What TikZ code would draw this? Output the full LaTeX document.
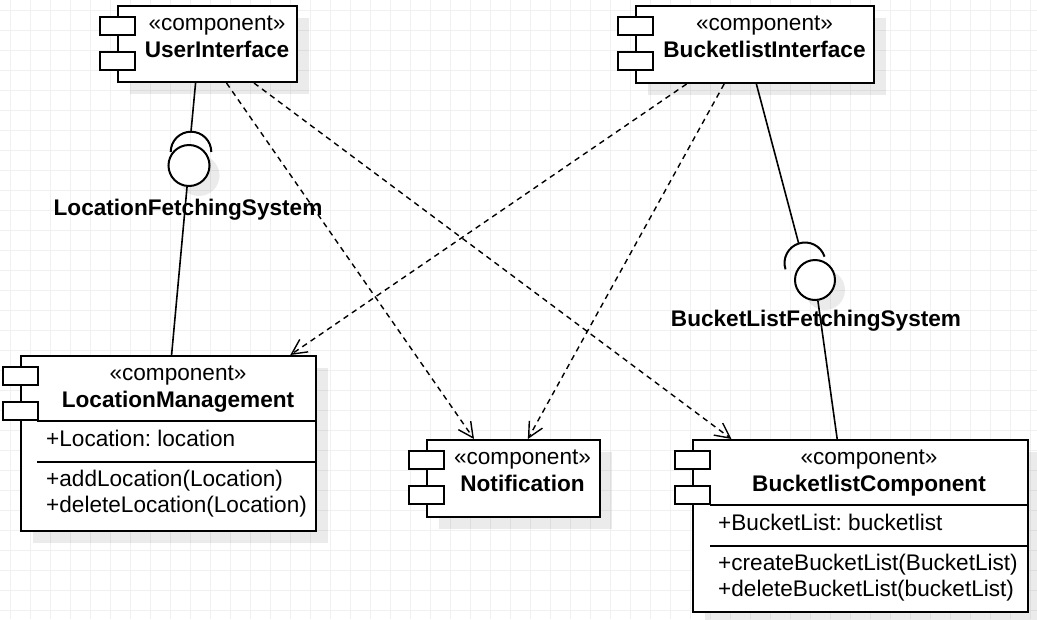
\documentclass[tikz,border=0pt]{standalone}
\usepackage{fontspec}
\setmainfont{Liberation Sans}
\usetikzlibrary{calc, shadows, arrows.meta}
\frenchspacing

\newcommand{\umlfont}{\fontsize{22.6}{27}\selectfont}

\tikzset{
  every node/.style={font=\umlfont, inner sep=0pt},
  gridline/.style={black!6, line width=1pt},
  comp/.style={draw, rectangle, line width=2pt, fill=white,
    drop shadow={shadow xshift=12pt, shadow yshift=-12pt, fill=black, opacity=0.08}},
  iconbox/.style={draw, line width=2pt, fill=white},
  sep/.style={line width=1.8pt},
  iface/.style={draw, circle, line width=2pt, fill=white, minimum size=41pt,
    drop shadow={shadow xshift=10pt, shadow yshift=-10pt, fill=black, opacity=0.08}},
  socket/.style={line width=2pt},
  link/.style={line width=1.6pt},
  dep/.style={line width=1.4pt, dash pattern=on 5.5pt off 4.5pt,
    -{Straight Barb[length=15pt, width=15pt, line width=1.4pt]}},
  stereo/.style={anchor=base},
  cname/.style={anchor=base, font=\umlfont\bfseries},
  member/.style={anchor=base west},
  ilabel/.style={anchor=base, font=\umlfont\bfseries}
}

\begin{document}
\begin{tikzpicture}[x=1pt, y=1pt]
  \useasboundingbox (0,0) rectangle (1037,-619);
  \fill[white] (0,0) rectangle (1037,-619);
  \foreach \x in {10,30,...,1030}
    \draw[gridline] (\x,0) -- (\x,-619);
  \foreach \y in {10,30,...,610}
    \draw[gridline] (0,-\y) -- (1037,-\y);

  % components
  \node[comp, minimum width=179pt, minimum height=76pt] (ui) at (207.5,-44) {};
  \node[comp, minimum width=238pt, minimum height=77pt] (bi) at (755,-44.5) {};
  \node[comp, minimum width=295pt, minimum height=175pt] (lm) at (168.5,-443.5) {};
  \node[comp, minimum width=173pt, minimum height=77pt] (nt) at (513.5,-478.5) {};
  \node[comp, minimum width=335pt, minimum height=172pt] (bc) at (860.5,-526) {};

  \foreach \n in {ui,bi,lm,nt,bc} {
    \draw[iconbox] ($(\n.north west)+(-17.5,-12)$) rectangle ++(35,-17.5);
    \draw[iconbox] ($(\n.north west)+(-17.5,-47)$) rectangle ++(35,-17.5);
  }

  \node[stereo] (ui-st) at ($(ui.north)+(9.5,-25.5)$) {«component»};
  \node[cname] (ui-nm) at ($(ui.north)+(9.5,-52)$) {UserInterface};
  \node[stereo] (bi-st) at ($(bi.north)+(9.5,-25.5)$) {«component»};
  \node[cname] (bi-nm) at ($(bi.north)+(9.5,-52)$) {BucketlistInterface};
  \node[stereo] (nt-st) at ($(nt.north)+(9,-25.5)$) {«component»};
  \node[cname] (nt-nm) at ($(nt.north)+(9,-52)$) {Notification};

  \node[stereo] (lm-st) at ($(lm.north)+(9.5,-25.5)$) {«component»};
  \node[cname] (lm-nm) at ($(lm.north)+(9.5,-52)$) {LocationManagement};
  \draw[sep] ($(lm.north west)+(17,-66)$) -- ($(lm.north east)+(0,-66)$);
  \node[member] (lm-a) at ($(lm.north west)+(26,-91)$) {+Location: location};
  \draw[sep] ($(lm.north west)+(17,-107)$) -- ($(lm.north east)+(0,-107)$);
  \node[member] (lm-m1) at ($(lm.north west)+(26,-131)$) {+addLocation(Location)};
  \node[member] (lm-m2) at ($(lm.north west)+(26,-157)$) {+deleteLocation(Location)};

  \node[stereo] (bc-st) at ($(bc.north)+(8.5,-25.5)$) {«component»};
  \node[cname] (bc-nm) at ($(bc.north)+(8.5,-52)$) {BucketlistComponent};
  \draw[sep] ($(bc.north west)+(18,-66)$) -- ($(bc.north east)+(0,-66)$);
  \node[member] (bc-a) at ($(bc.north west)+(26,-91)$) {+BucketList: bucketlist};
  \draw[sep] ($(bc.north west)+(18,-107)$) -- ($(bc.north east)+(0,-107)$);
  \node[member] (bc-m1) at ($(bc.north west)+(26,-131)$) {+createBucketList(BucketList)};
  \node[member] (bc-m2) at ($(bc.north west)+(26,-157)$) {+deleteBucketList(bucketList)};

  % provided / required interfaces
  \coordinate (sk1) at (191,-131.7);
  \draw[link] (ui.-107.5) -- (sk1);
  \draw[socket] (sk1) arc[start angle=90, end angle=0, radius=20.3];
  \draw[socket] (sk1) arc[start angle=90, end angle=180, radius=20.3];
  \node[iface] (ifl) at (189,-165.5) {};
  \draw[link] (lm.88.4) -- (ifl);
  \node[ilabel] (ifl-l) at (188,-215) {LocationFetchingSystem};

  \coordinate (sk2) at (798.7,-243.5);
  \draw[link] (bi.-88.5) -- (sk2);
  \draw[socket] (sk2) arc[start angle=108, end angle=18, radius=20.5];
  \draw[socket] (sk2) arc[start angle=108, end angle=198, radius=20.5];
  \node[iface, minimum size=40pt] (ifb) at (815,-280) {};
  \draw[link] (bc.105.9) -- (ifb);
  \node[ilabel] (ifb-l) at (816,-326) {BucketListFetchingSystem};

  % dependencies
  \draw[dep] (ui.-64) -- (nt.135);
  \draw[dep] (ui.-40.5) -- (bc.146.4);
  \draw[dep] (bi.-150.8) -- (lm.36);
  \draw[dep] (bi.-128.8) -- (nt.70.7);
\end{tikzpicture}
\end{document}
